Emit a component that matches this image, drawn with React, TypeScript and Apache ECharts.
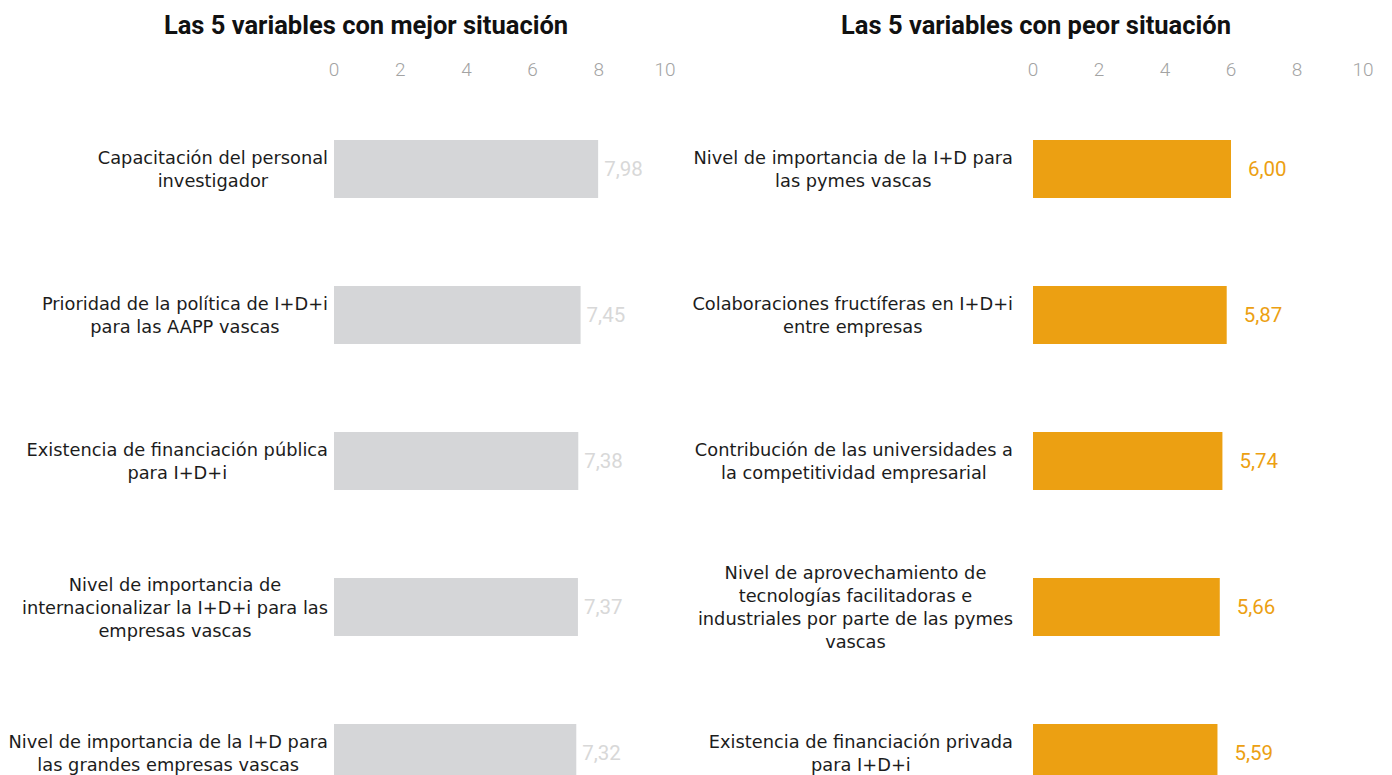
import React, { useEffect, useRef } from "react";
import * as echarts from "echarts";

const bestTitle = "Las 5 variables con mejor situación";
const worstTitle = "Las 5 variables con peor situación";

const bestCategories = [
  "Capacitación del personal\ninvestigador",
  "Prioridad de la política de I+D+i\npara las AAPP vascas",
  "Existencia de financiación pública\npara I+D+i",
  "Nivel de importancia de\ninternacionalizar la I+D+i para las\nempresas vascas",
  "Nivel de importancia de la I+D para\nlas grandes empresas vascas",
];
const bestValues = [7.98, 7.45, 7.38, 7.37, 7.32];

const worstCategories = [
  "Nivel de importancia de la I+D para\nlas pymes vascas",
  "Colaboraciones fructíferas en I+D+i\nentre empresas",
  "Contribución de las universidades a\nla competitividad empresarial",
  "Nivel de aprovechamiento de\ntecnologías facilitadoras e\nindustriales por parte de las pymes\nvascas",
  "Existencia de financiación privada\npara I+D+i",
];
const worstValues = [6.0, 5.87, 5.74, 5.66, 5.59];

const FONT = "DejaVu Sans";

const catLabel = (v: string) =>
  v
    .split("\n")
    .map((l) => `{c|${l}}`)
    .join("\n");

function makeYAxis(idx: number, cats: string[], margin: number) {
  return {
    type: "category",
    gridIndex: idx,
    data: cats,
    inverse: true,
    axisLine: { show: false },
    axisTick: { show: false },
    axisLabel: {
      margin,
      formatter: catLabel,
      rich: {
        c: {
          align: "center",
          fontFamily: FONT,
          fontSize: 17.8,
          color: "#1c1c1c",
          lineHeight: 23,
        },
      },
    },
  };
}

function makeXAxis(idx: number) {
  return {
    type: "value",
    gridIndex: idx,
    position: "top",
    min: 0,
    max: 10,
    interval: 2,
    splitLine: { show: false },
    axisLine: { show: false },
    axisTick: { show: false },
    axisLabel: {
      margin: 17,
      color: "#a3a3a3",
      fontFamily: "Roboto",
      fontWeight: 300,
      fontSize: 19,
    },
  };
}

export default function App() {
  const ref = useRef<HTMLDivElement>(null);
  useEffect(() => {
    const chart = echarts.init(ref.current!, undefined, { renderer: "svg" });
    const fmt = (p: any) => Number(p.value).toFixed(2).replace(".", ",");
    chart.setOption({
      animation: false,
      title: [
        {
          text: bestTitle,
          left: 361,
          top: 7,
          textAlign: "center",
          textStyle: { fontFamily: "Roboto", fontWeight: "bold", fontSize: 25.5, color: "#111" },
        },
        {
          text: worstTitle,
          left: 1031,
          top: 7,
          textAlign: "center",
          textStyle: { fontFamily: "Roboto", fontWeight: "bold", fontSize: 25.5, color: "#111" },
        },
      ],
      grid: [
        { left: 334, width: 331, top: 96, height: 730 },
        { left: 1033, width: 330, top: 96, height: 730 },
      ],
      xAxis: [makeXAxis(0), makeXAxis(1)],
      yAxis: [makeYAxis(0, bestCategories, 6), makeYAxis(1, worstCategories, 20)],
      series: [
        {
          type: "bar",
          xAxisIndex: 0,
          yAxisIndex: 0,
          data: bestValues,
          barWidth: 58,
          itemStyle: { color: "#d5d6d8" },
          label: {
            show: true,
            position: "right",
            distance: 6,
            formatter: fmt,
            color: "#d8d8d8",
            fontFamily: "Roboto",
            fontSize: 20.5,
          },
        },
        {
          type: "bar",
          xAxisIndex: 1,
          yAxisIndex: 1,
          data: worstValues,
          barWidth: 58,
          itemStyle: { color: "#eca012" },
          label: {
            show: true,
            position: "right",
            distance: 17,
            formatter: fmt,
            color: "#eca012",
            fontFamily: "Roboto",
            fontSize: 20.5,
          },
        },
      ],
    });
    return () => chart.dispose();
  }, []);
  return (
    <div
      style={{
        position: "absolute",
        left: 0,
        top: 0,
        width: 1392,
        height: 775,
        overflow: "hidden",
      }}
    >
      <div ref={ref} style={{ width: 1392, height: 880 }} />
    </div>
  );
}
